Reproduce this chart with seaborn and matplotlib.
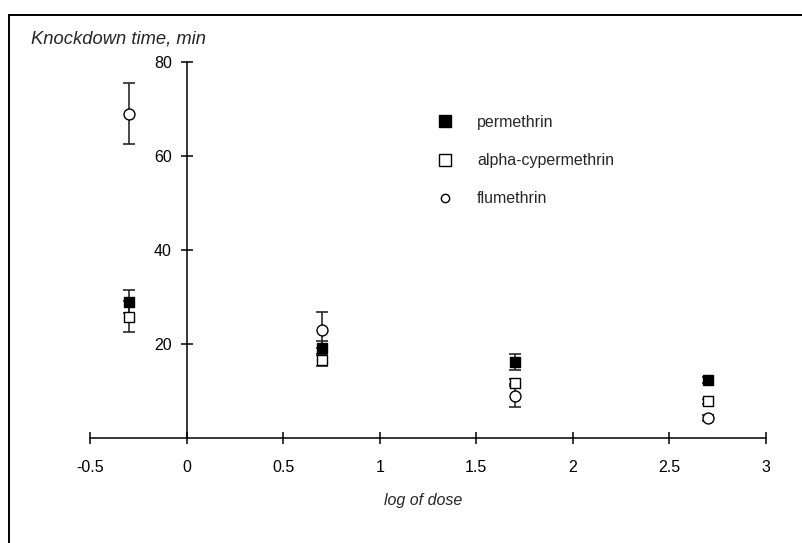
import matplotlib
matplotlib.use("Agg")
import matplotlib.pyplot as plt
import pandas as pd
import seaborn as sns
from matplotlib.lines import Line2D
from matplotlib.patches import Rectangle

LOG_DOSE = [-0.3, 0.7, 1.7, 2.7]
PERMETHRIN = [29.0, 19.2, 16.2, 12.3]
PERMETHRIN_ERR = [2.4, 1.5, 1.75, 0.7]
ALPHA_CYPERMETHRIN = [25.8, 16.6, 11.8, 7.8]
ALPHA_CYPERMETHRIN_ERR = [3.3, 1.3, 0.8, 0.5]
FLUMETHRIN = [69.0, 23.0, 9.0, 4.2]
FLUMETHRIN_ERR = [6.5, 3.8, 2.4, 0.6]

COMPOUNDS = ["permethrin", "alpha-cypermethrin", "flumethrin"]
X_TICKS = [-0.5, 0, 0.5, 1, 1.5, 2, 2.5, 3]
Y_TICKS = [20, 40, 60, 80]

FONT = ["Liberation Sans", "DejaVu Sans"]


def build_frame() -> pd.DataFrame:
    rows = []
    for name, vals, errs in [
        ("permethrin", PERMETHRIN, PERMETHRIN_ERR),
        ("alpha-cypermethrin", ALPHA_CYPERMETHRIN, ALPHA_CYPERMETHRIN_ERR),
        ("flumethrin", FLUMETHRIN, FLUMETHRIN_ERR),
    ]:
        for x, v, e in zip(LOG_DOSE, vals, errs):
            rows.append({"compound": name, "log_dose": x, "time": v, "err": e})
    return pd.DataFrame(rows)


def main() -> None:
    sns.set_style("white")
    plt.rcParams["font.family"] = FONT
    plt.rcParams["font.size"] = 11

    df = build_frame()

    fig = plt.figure(figsize=(8.03, 5.43), dpi=100)
    ax = fig.add_axes([90 / 803, 1 - 438 / 543, 676 / 803, 376 / 543])

    styles = {
        "permethrin": dict(marker="s", facecolor="black", s=62),
        "alpha-cypermethrin": dict(marker="s", facecolor="white", s=62),
        "flumethrin": dict(marker="o", facecolor="white", s=62),
    }

    # error bars first, markers on top
    for name in COMPOUNDS:
        sub = df[df["compound"] == name]
        ax.errorbar(
            sub["log_dose"], sub["time"], yerr=sub["err"], fmt="none",
            ecolor="#2a2a2a", elinewidth=1.2, capsize=4.5, capthick=1.2, zorder=2,
        )
    for name in COMPOUNDS:
        sub = df[df["compound"] == name]
        st = styles[name]
        sns.scatterplot(
            data=sub, x="log_dose", y="time", marker=st["marker"], s=st["s"],
            color=st["facecolor"], edgecolor="black", linewidth=1.0,
            zorder=3, ax=ax, legend=False,
        )

    ax.set_xlim(-0.5, 3)
    ax.set_ylim(0, 80)
    ax.set_xticks(X_TICKS)
    ax.set_xticklabels([f"{v:g}" for v in X_TICKS])
    ax.set_yticks(Y_TICKS)
    ax.set_yticklabels([str(v) for v in Y_TICKS])
    ax.set_xlabel("")
    ax.set_ylabel("")

    ax.spines["left"].set_position(("data", 0))
    ax.spines["bottom"].set_position(("data", 0))
    ax.spines["top"].set_visible(False)
    ax.spines["right"].set_visible(False)
    for sp in ("left", "bottom"):
        ax.spines[sp].set_color("black")
        ax.spines[sp].set_linewidth(1.1)

    ax.tick_params(axis="both", direction="inout", length=9, width=1.1,
                   colors="black", labelsize=11.5, bottom=True, left=True)
    ax.tick_params(axis="x", pad=11)
    ax.tick_params(axis="y", pad=6)

    handles = [
        Line2D([], [], linestyle="none", marker="s", markersize=8,
               markerfacecolor="black", markeredgecolor="black"),
        Line2D([], [], linestyle="none", marker="s", markersize=8,
               markerfacecolor="white", markeredgecolor="black"),
        Line2D([], [], linestyle="none", marker="o", markersize=6,
               markerfacecolor="white", markeredgecolor="black"),
    ]
    fig.legend(
        handles, COMPOUNDS, loc="upper left",
        bbox_to_anchor=(437 / 803, 1 - 115 / 543),
        frameon=False, fontsize=11.5, handlelength=1.0, handletextpad=1.5,
        labelspacing=1.45, borderpad=0, borderaxespad=0,
    )

    fig.text(31 / 803, 1 - 39 / 543, "Knockdown time, min", style="italic",
             fontsize=13.2, ha="left", va="center")
    fig.text(423 / 803, 1 - 500 / 543, "log of dose", style="italic",
             fontsize=11.5, ha="center", va="center")

    # outer frame, only top and left edges fall inside the canvas
    fig.patches.append(Rectangle((9 / 803, -0.1), 1.2, 1 - 15 / 543 + 0.1,
                                 transform=fig.transFigure, fill=False,
                                 edgecolor="black", linewidth=1.4))

    fig.savefig("out.png", dpi=100)
    plt.close(fig)


if __name__ == "__main__":
    main()
